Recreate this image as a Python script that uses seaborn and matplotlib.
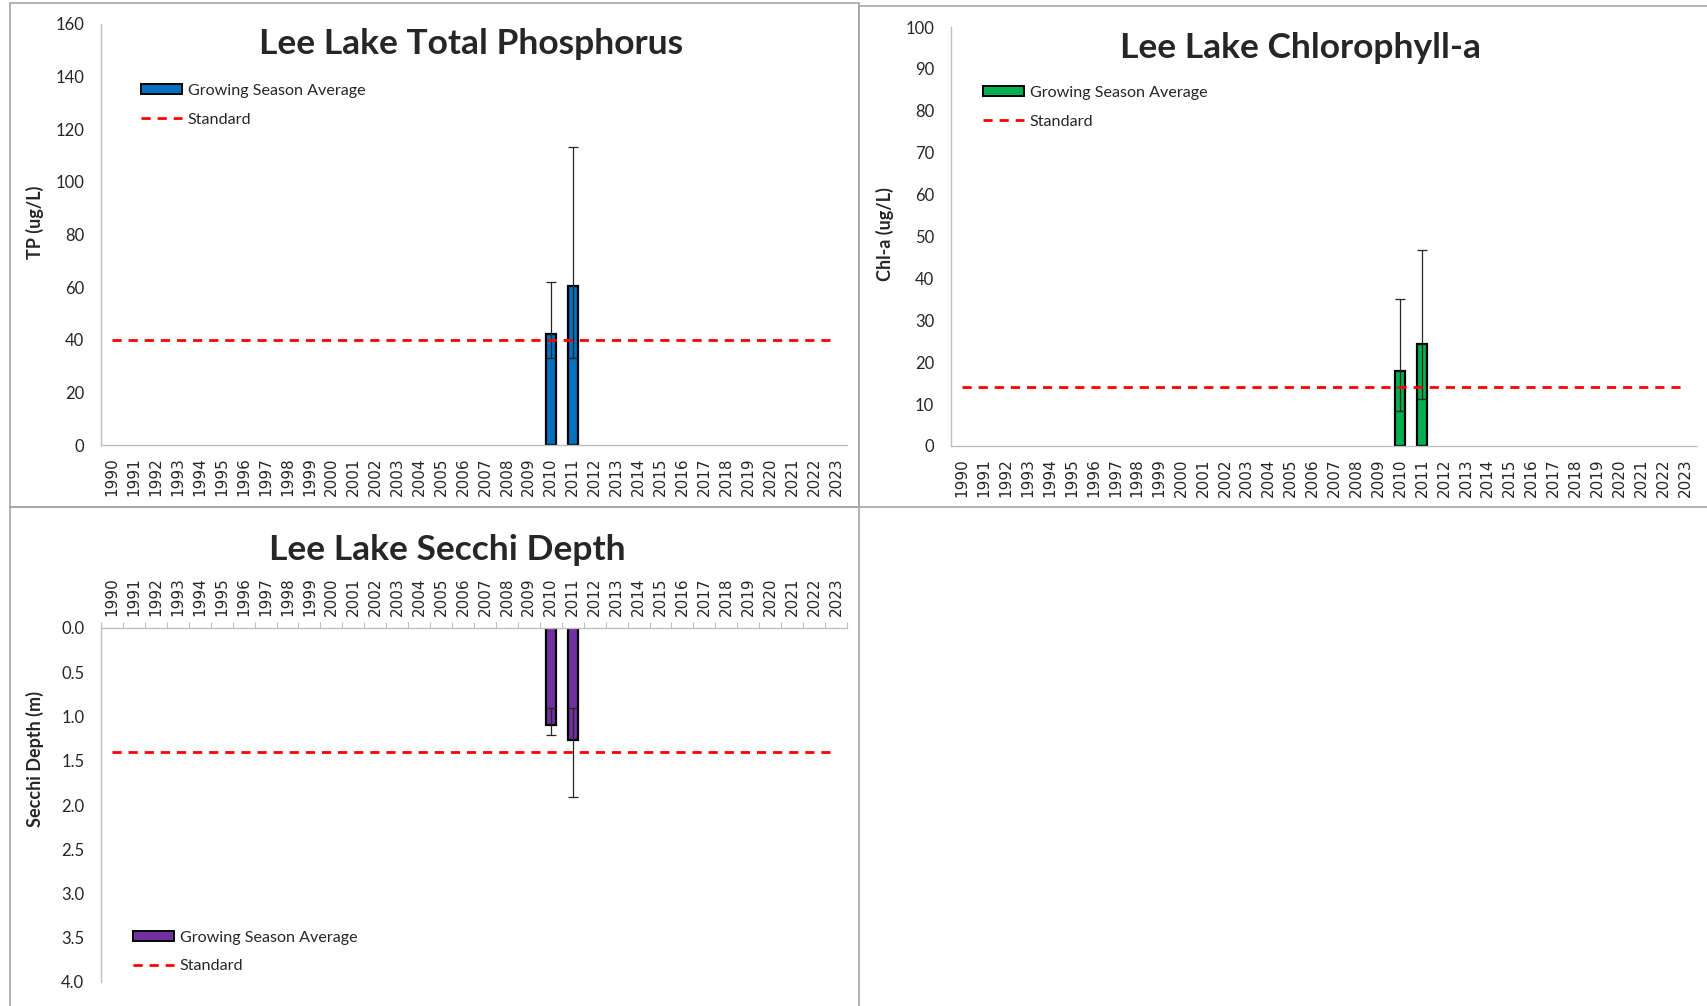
import numpy as np
import pandas as pd
import matplotlib
matplotlib.use("Agg")
import matplotlib.pyplot as plt
from matplotlib.patches import Patch, Rectangle
from matplotlib.lines import Line2D
from matplotlib.ticker import FormatStrFormatter
import seaborn as sns

# ---- data -------------------------------------------------------------
years = list(range(1990, 2024))
sample_years = [2010, 2011]

tp_mean = [42.2, 60.4]
tp_min = [33.0, 33.0]
tp_max = [62.0, 113.3]
tp_standard = 40

chl_mean = [17.9, 24.4]
chl_min = [8.3, 11.2]
chl_max = [35.1, 46.8]
chl_standard = 14

secchi_mean = [1.10, 1.26]
secchi_min = [0.90, 0.90]
secchi_max = [1.21, 1.91]
secchi_standard = 1.4

# ---- style ------------------------------------------------------------
sns.set_style("white")
plt.rcParams["font.family"] = ["Lato", "DejaVu Sans"]

W, H = 1707, 1006
fig = plt.figure(figsize=(W / 100, H / 100), dpi=100)

SPINE = "#BFBFBF"
STD_RED = "#FF0000"
STD_LW = 2.0
DASH = (0, (3.3, 2.5))


def fx(px):
    return px / W


def fy(py):
    return 1 - py / H


def panel(rect_px):
    x0, y0, x1, y1 = rect_px
    fig.patches.append(Rectangle((fx(x0), fy(y1)), fx(x1 - x0), (y1 - y0) / H,
                                 transform=fig.transFigure, fill=False,
                                 edgecolor="#A6A6A6", lw=1.2, zorder=0))


def make_axes(left, right, top, bottom):
    return fig.add_axes([fx(left), fy(bottom), fx(right - left), (bottom - top) / H])


def draw(ax, mean, lo, hi, standard, color, ylabel, top_axis=False):
    values = [np.nan] * len(years)
    for yr, m in zip(sample_years, mean):
        values[years.index(yr)] = m
    df = pd.DataFrame({"year": [str(y) for y in years], "value": values})
    sns.barplot(data=df, x="year", y="value", order=[str(y) for y in years],
                color=color, width=0.45, edgecolor="black", linewidth=1.6,
                saturation=1, errorbar=None, ax=ax, zorder=2)
    pos = [years.index(y) for y in sample_years]
    m = np.array(mean)
    ax.errorbar(pos, m, yerr=[m - np.array(lo), np.array(hi) - m], fmt="none",
                ecolor="#262626", elinewidth=0.9, capsize=3.5, capthick=0.9,
                zorder=3)
    sns.lineplot(x=list(range(len(years))), y=[standard] * len(years), ax=ax,
                 color=STD_RED, lw=STD_LW, linestyle=DASH, zorder=4)
    ax.set_xlim(-0.5, len(years) - 0.5)
    ax.set_xlabel("")
    ax.set_ylabel(ylabel)
    for s in ["top", "right", "bottom", "left"]:
        ax.spines[s].set_visible(False)
    ax.spines["left"].set_visible(True)
    ax.spines["left"].set_color(SPINE)
    ax.spines["left"].set_linewidth(1)
    edge = "top" if top_axis else "bottom"
    ax.spines[edge].set_visible(True)
    ax.spines[edge].set_color(SPINE)
    ax.spines[edge].set_linewidth(1)
    if top_axis:
        ax.xaxis.tick_top()
    ax.set_xticks(range(len(years)))
    ax.set_xticklabels([str(y) for y in years], rotation=90,
                       fontfamily="DejaVu Sans", fontsize=11)
    ax.set_xticks(np.arange(-0.5, len(years), 1.0), minor=True)
    ax.tick_params(axis="x", which="major", length=0, pad=9)
    ax.tick_params(axis="x", which="minor", length=4, width=0.8, color=SPINE,
                   direction="out")
    ax.tick_params(axis="y", which="major", length=4, width=0.8, color=SPINE,
                   direction="out", pad=8, labelsize=12)
    ax.set_facecolor("none")


# ---- panel outlines ---------------------------------------------------
panel((9.5, 3, 859, 507))
panel((859, 6, 1712, 507))
panel((9.5, 507, 859, 1012))

# ---- Total phosphorus -------------------------------------------------
ax1 = make_axes(101, 847, 24, 445)
draw(ax1, tp_mean, tp_min, tp_max, tp_standard, "#0070C0", "TP (ug/L)")
ax1.set_ylim(0, 160)
ax1.set_yticks(range(0, 161, 20))

# ---- Chlorophyll-a ----------------------------------------------------
ax2 = make_axes(951, 1696, 27, 446)
draw(ax2, chl_mean, chl_min, chl_max, chl_standard, "#00B050", "Chl-a (ug/L)")
ax2.set_ylim(0, 100)
ax2.set_yticks(range(0, 101, 10))

# ---- Secchi depth -----------------------------------------------------
ax3 = make_axes(101, 847, 628, 982)
draw(ax3, secchi_mean, secchi_min, secchi_max, secchi_standard, "#7030A0",
     "Secchi Depth (m)", top_axis=True)
ax3.set_ylim(4.0, 0.0)
ax3.set_yticks(np.arange(0, 4.01, 0.5))
ax3.yaxis.set_major_formatter(FormatStrFormatter("%.1f"))

# ---- y labels, titles, legends ----------------------------------------
for ax, xpx, ypx in [(ax1, 44, 222), (ax2, 894, 234), (ax3, 44, 759)]:
    ax.yaxis.label.set_fontsize(13)
    ax.yaxis.label.set_fontweight("bold")
    ax.yaxis.set_label_coords(fx(xpx), fy(ypx), transform=fig.transFigure)

titles = [("Lee Lake Total Phosphorus", 471, 43.5),
          ("Lee Lake Chlorophyll-a", 1301, 48),
          ("Lee Lake Secchi Depth", 447, 550)]
for text, xpx, ypx in titles:
    fig.text(fx(xpx), fy(ypx), text, ha="center", va="center",
             fontsize=25.5, fontweight="bold")

legend_spots = [(ax1, "#0070C0", 141, 84), (ax2, "#00B050", 983, 86),
                (ax3, "#7030A0", 133, 931)]
for ax, color, xpx, ypx in legend_spots:
    handles = [Patch(facecolor=color, edgecolor="black", linewidth=1.4),
               Line2D([], [], color=STD_RED, lw=STD_LW, linestyle=DASH)]
    ax.legend(handles, ["Growing Season Average", "Standard"], loc="upper left",
              bbox_to_anchor=(fx(xpx), fy(ypx)), bbox_transform=fig.transFigure,
              frameon=False, borderpad=0, borderaxespad=0, handlelength=2.55,
              handleheight=0.6, handletextpad=0.35, labelspacing=0.9,
              fontsize=11.6)

fig.savefig("out.png", dpi=100, facecolor="white")
